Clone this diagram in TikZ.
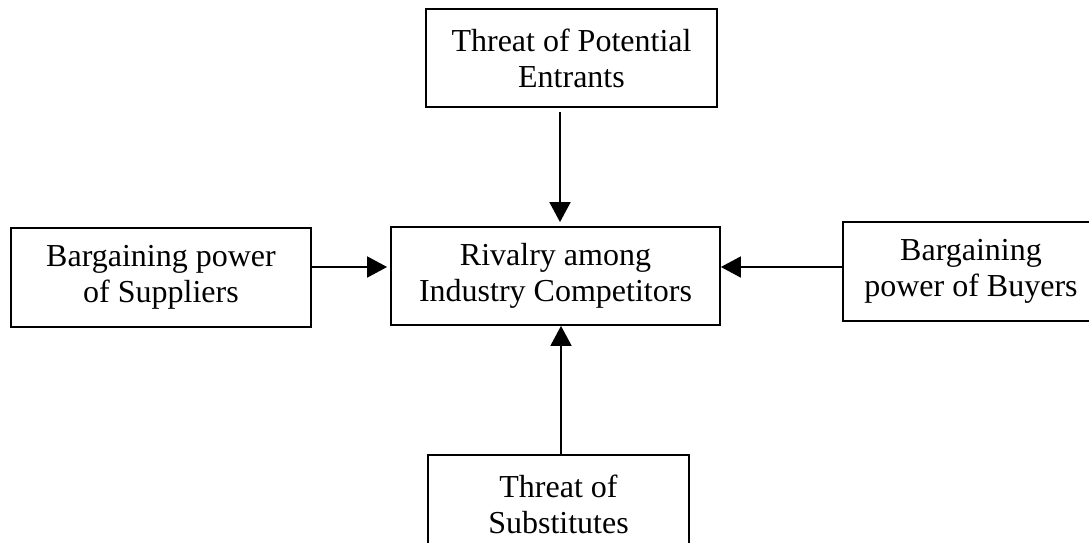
\documentclass[tikz,border=0pt]{standalone}
\usepackage{fontspec}
\setmainfont{Liberation Serif}
\usetikzlibrary{arrows.meta}
\begin{document}
\begin{tikzpicture}[x=1pt,y=-1pt,
  box/.style={draw, line width=1.8pt, inner sep=0pt, align=center, font=\fontsize{32}{36}\selectfont},
  arr/.style={line width=1.8pt, -{Triangle[length=20pt,width=21pt]}}]
\useasboundingbox (0,0) rectangle (1089,543);
\clip (0,0) rectangle (1089,543);
\node[box, minimum width=291pt, minimum height=98pt] (ent) at (571.5,58) {Threat of Potential\\Entrants};
\node[box, minimum width=329pt, minimum height=98pt] (riv) at (555.5,276) {Rivalry among\\Industry Competitors};
\node[box, minimum width=300pt, minimum height=99pt] (sup) at (161,277.5) {Bargaining power\\of Suppliers};
\node[box, minimum width=256pt, minimum height=99pt] (buy) at (971,271.5) {Bargaining\\power of Buyers};
\node[box, minimum width=261pt, minimum height=98pt] (sub) at (558.5,504) {Threat of\\Substitutes};
\coordinate (vx) at (560,0);
\coordinate (vxb) at (561,0);
\coordinate (hy) at (0,267);
\draw[arr, shorten <=4pt, shorten >=4pt] (ent.south -| vx) -- (riv.north -| vx);
\draw[arr, shorten >=3pt] (sup.east |- hy) -- (riv.west |- hy);
\draw[arr] (buy.west |- hy) -- (riv.east |- hy);
\draw[arr] (sub.north -| vxb) -- (riv.south -| vxb);
\end{tikzpicture}
\end{document}
